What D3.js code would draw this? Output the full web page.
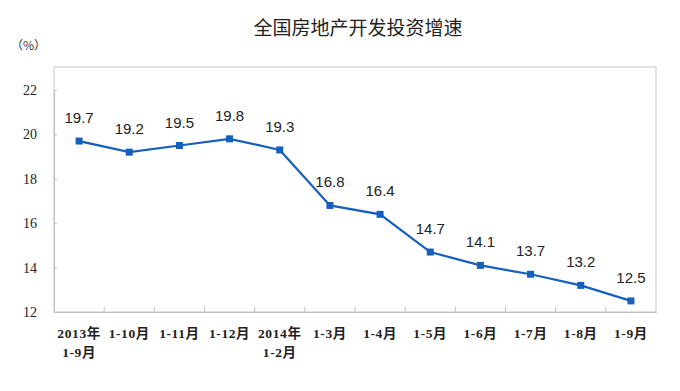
<!DOCTYPE html>
<html><head><meta charset="utf-8">
<script src="https://cdn.jsdelivr.net/npm/d3@7"></script>
<style>body{margin:0;background:#fff;}svg{display:block;}</style>
</head><body>
<script>
const title = "全国房地产开发投资增速";
const unitLabel = "（%）";
const categories = [["2013年","1-9月"],["1-10月"],["1-11月"],["1-12月"],["2014年","1-2月"],["1-3月"],["1-4月"],["1-5月"],["1-6月"],["1-7月"],["1-8月"],["1-9月"]];
const values = [19.7, 19.2, 19.5, 19.8, 19.3, 16.8, 16.4, 14.7, 14.1, 13.7, 13.2, 12.5];
const yTicks = [12, 14, 16, 18, 20, 22];

(function(){
const W = 680, H = 391;
const svg = d3.select("body").append("svg").attr("width", W).attr("height", H);
const pL = 54, pR = 656, pT = 90, pB = 312, boxTop = 67;
const serif = "'Liberation Serif','Noto Sans CJK SC',serif";

const x = d3.scaleBand().domain(d3.range(categories.length)).range([pL, pR]);
const y = d3.scaleLinear().domain([12, 22]).range([pB, pT]);

// plot area border
svg.append("rect").attr("x", pL).attr("y", boxTop).attr("width", pR - pL).attr("height", pB - boxTop)
  .attr("fill", "none").attr("stroke", "#d0d0d0").attr("stroke-width", 1.2);

svg.append("text").attr("x", 358).attr("y", 35).attr("text-anchor", "middle")
  .attr("font-family", "'Noto Sans CJK SC',sans-serif").attr("font-size", 19).attr("fill", "#222").text(title);
svg.append("text").attr("x", 11).attr("y", 50)
  .attr("font-family", "'Noto Sans CJK SC',sans-serif").attr("font-size", 12).attr("fill", "#333").text(unitLabel);

// y axis
const yAxis = svg.append("g").attr("transform", `translate(${pL},0)`)
  .call(d3.axisLeft(y).tickValues(yTicks).tickSize(-3).tickPadding(17));
yAxis.select(".domain").attr("stroke", "#c0c0c0");
yAxis.selectAll(".tick line").attr("stroke", "#c0c0c0");
yAxis.selectAll(".tick text").attr("font-family", serif).attr("font-size", 14).attr("fill", "#222");

// x axis
const xAxis = svg.append("g").attr("transform", `translate(0,${pB})`)
  .call(d3.axisBottom(x).tickSize(0).tickFormat(""));
xAxis.select(".domain").attr("stroke", "#c0c0c0");
xAxis.selectAll(".tick").remove();
const bounds = d3.range(1, categories.length).map(i => x(i));
xAxis.selectAll("line.bt").data(bounds).join("line").attr("class", "bt")
  .attr("x1", d => d).attr("x2", d => d).attr("y1", 0).attr("y2", -5).attr("stroke", "#c0c0c0");
const lab = svg.append("g").selectAll("text").data(categories).join("text")
  .attr("text-anchor", "middle").attr("font-family", serif).attr("font-size", 13.5).attr("fill", "#222")
  .attr("font-weight", 600).attr("letter-spacing", 0.6);
lab.each(function(d, i) {
  const t = d3.select(this);
  d.forEach((s, j) => {
    t.append("tspan").attr("x", x(i) + x.bandwidth() / 2).attr("y", 338 + j * 19).text(s);
  });
});

// line
const cx = i => x(i) + x.bandwidth() / 2;
const color = "#1560bd";
svg.append("path").datum(values).attr("fill", "none").attr("stroke", color).attr("stroke-width", 2.2)
  .attr("d", d3.line().x((d, i) => cx(i)).y(d => y(d)));
svg.append("g").selectAll("rect").data(values).join("rect")
  .attr("x", (d, i) => cx(i) - 3.5).attr("y", d => y(d) - 3.5).attr("width", 7).attr("height", 7).attr("fill", color);
svg.append("g").selectAll("text").data(values).join("text")
  .attr("x", (d, i) => cx(i)).attr("y", d => y(d) - 18).attr("text-anchor", "middle")
  .attr("font-family", "'Liberation Sans',Arial,sans-serif").attr("font-size", 15).attr("fill", "#222")
  .text(d => d.toFixed(1));
})();
</script>
</body></html>
